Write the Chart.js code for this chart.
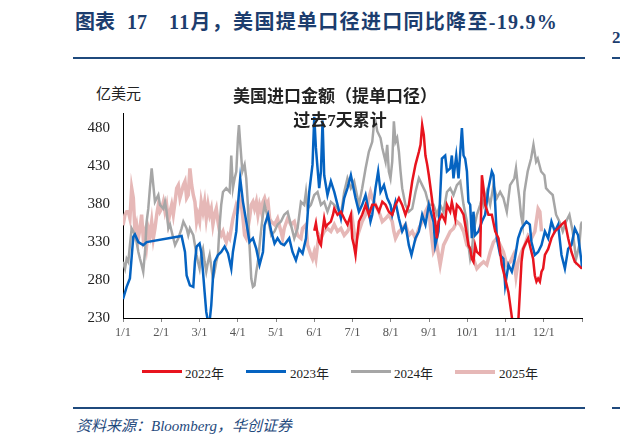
<!DOCTYPE html>
<html>
<head>
<meta charset="utf-8">
<script src="https://cdn.jsdelivr.net/npm/chart.js@4.4.1/dist/chart.umd.min.js"></script>
<style>
  body { margin: 0; background: #fff; }
  #page { position: relative; width: 620px; height: 445px; overflow: hidden; font-family: "Liberation Serif", "Noto Sans CJK SC", serif; }
  .abs { position: absolute; white-space: nowrap; }
  .hd { color: #1c3d6e; font-weight: bold; font-size: 20px; top: 10px; line-height: 24px; }
  .rule { position: absolute; background: #1f4a7d; height: 2px; }
  .leg-line { position: absolute; height: 3px; width: 40px; top: 370px; }
  .leg-txt { position: absolute; top: 363px; font-size: 13px; color: #222; }
</style>
</head>
<body>
<div id="page">
  <div class="abs hd" style="left:75px">图表</div>
  <div class="abs hd" style="left:127px">17</div>
  <div class="abs hd" style="left:169px;letter-spacing:1.3px">11月，美国提单口径进口同比降至-19.9%</div>
  <div class="rule" style="left:73px;top:57px;width:512px"></div>
  <div class="abs" style="left:612px;top:28px;color:#1c3d6e;font-weight:bold;font-size:17px">2</div>
  <div class="rule" style="left:612px;top:57px;width:8px"></div>

  <div class="abs" style="left:96px;top:82px;font-size:15px;color:#222;font-family:'Noto Sans CJK SC'">亿美元</div>

  <div style="position:absolute;left:73px;top:62px;width:512px;height:288px">
    <canvas id="myChart" width="512" height="288"></canvas>
  </div>

  <div class="abs" style="left:230px;top:82px;width:210px;text-align:center;font-size:17px;font-weight:bold;color:#222">美国进口金额（提单口径）</div>
  <div class="abs" style="left:288px;top:106px;width:104px;text-align:center;font-size:17px;font-weight:bold;color:#222">过去7天累计</div>

  <div class="leg-line" style="left:142px;background:#e8141e"></div>
  <div class="leg-txt" style="left:185px">2022年</div>
  <div class="leg-line" style="left:246px;background:#0563c1"></div>
  <div class="leg-txt" style="left:290px">2023年</div>
  <div class="leg-line" style="left:351px;background:#a6a6a6"></div>
  <div class="leg-txt" style="left:394px">2024年</div>
  <div class="leg-line" style="left:455px;background:#e6b8b7;height:4px"></div>
  <div class="leg-txt" style="left:499px">2025年</div>

  <div class="rule" style="left:73px;top:407px;width:512px"></div>
  <div class="rule" style="left:612px;top:407px;width:8px"></div>
  <div class="abs" style="left:76px;top:414px;font-size:15px;font-style:italic;color:#1f4a7d">资料来源：Bloomberg，华创证券</div>
</div>

<script>
'use strict';

// axes
const xLabels = ["1/1", "2/1", "3/1", "4/1", "5/1", "6/1", "7/1", "8/1", "9/1", "10/1", "11/1", "12/1", ""];
const yTicks = [230, 280, 330, 380, 430, 480];

// 2022 (starts in June)
const d2022 = [152.1,153.4,154.7,156,157.4,158.7,160,161.3,162.6,165.3,167,168,170.6,173.3,175.9,178.5,181.2,182.3,183.6,184.9,186.2,187.6,190.2,192.9,195.5,198.2,200.8,203.5,206.2,208.8,211.4,214.1,216.7,219.4,222,224.6,227.3,230,232.6,235.3,236.6,237.9,239.2,240.5,241.9,243.2,245.6,246.9,248.3,249.6,250.9,253.6,256.2,257.6,260.2,261.5,264.2,265.5,268.2,270.8,273.5,274.7,276.1,277.4,278.7,280,281.4,284,285.4,286.7,288,290.6,293.3,296,298.6,301.2,303.9,306.5,309.4,311,314,316.9,318.2,319.5,322.2,324.8,326.1,327.5,328.8,330.1,331.5,332.8,334.1,335.5,338.1,340.7,343.4,346,348.7,351.4,354,356.6,359.3,361.9,365];
const v2022 = [345,355,340,330,326,345,361,350,353,357,366,374,366,370,361,353,366,335,326,313,335,357,366,379,366,379,379,370,383,379,370,366,379,388,379,366,379,410,432,449,458,484,471,444,432,418,388,370,357,335,357,366,357,379,370,383,361,379,374,366,339,326,321,308,304,326,317,313,418,401,379,366,366,344,335,300,282,264,229,215,215,304,321,326,335,317,308,286,278,282,278,291,295,313,321,335,344,348,353,357,335,317,304,300,295];

// 2023
const d2023 = [0,2.9,5.5,8.2,9.5,12.2,16.1,18.8,46.6,49.3,50.6,53.2,55.9,57.2,58.5,60.9,62.2,63.6,64.9,66.2,67.6,68.9,70.2,71.5,72.8,75.5,78.1,80.8,83.5,86.1,87.4,90.1,91.4,93.2,95.4,98,100.6,103.3,106,108.6,111.3,112.6,115.3,117.9,120.5,122.9,125.6,128.2,132.2,134.8,137.5,140.1,142.8,145.5,148.1,150.7,152.1,153.4,156,157.4,158.7,160,162.6,165.3,168,170.6,173.3,175.9,178.5,181.2,184.9,187.6,190.2,192.9,195.5,196.8,198.2,200.8,202.9,204.8,207.5,210.1,212.7,214.1,216.7,219.4,222,224.6,227.3,229.4,232.6,235.3,237.9,240.5,243.2,246.9,248.3,250.9,253.6,256.2,257.6,260.2,261.5,262.8,265,266.8,269.5,270.8,272.1,273.5,274.7,276.1,277.4,278.7,280,282.7,285.4,288,290.6,293.3,294.6,296,297.3,299.9,302.5,303.9,306.5,309.2,311.6,314.2,316.9,320.8,323.5,324.8,327.5,330.1,332.8,335.5,338.1,340.7,343.4,346,348.7,351.4,354,356.6,359.3,361.9,364.6,365];
const v2023 = [255,271,282,337,340,330,326,330,338,317,286,273,271,304,324,328,317,291,264,238,225,226,247,282,304,313,317,324,315,295,317,344,379,414,383,357,330,335,321,300,317,352,366,344,328,335,328,326,335,317,306,321,315,335,396,432,495,454,401,423,490,418,392,410,396,379,361,388,401,418,388,370,379,392,370,357,366,401,423,396,405,388,379,366,383,361,344,353,326,313,335,344,366,353,379,357,326,344,440,444,423,427,444,414,444,414,480,444,440,423,383,379,335,370,339,344,357,366,401,423,418,379,335,313,308,273,300,291,308,335,348,357,353,330,313,317,326,344,335,357,344,353,313,295,321,326,348,339,304,295];

// 2024
const d2024 = [0,1.6,2.9,4.2,5.5,6.9,8.2,9.5,10.8,12.2,13.5,14.8,16.1,17.5,18.8,20.1,21.4,22.8,24.1,25.4,28.1,29.4,32.1,33.4,34.7,36.1,37.4,38.7,40,41.4,44,46.6,48,50.6,51.9,53.2,55.9,58.5,59.6,60.9,62.2,63.6,64.9,66.2,67.6,68.9,71.5,72.8,74.2,75.5,76.8,78.1,79.5,82.1,84.8,86.1,87.4,88.8,90.1,91.4,92.2,93.5,94.9,96.7,98,99.3,100.6,102,103.3,104.6,106,107.3,108.6,110,111.3,112.6,115.3,117.9,120.5,122.9,125.6,128.2,130.9,133.5,136.2,138.8,141.5,144.1,145.5,146.8,149.4,152.1,154.7,157.4,160,162.6,165.3,168,170.6,173.3,175.9,178.5,181.2,183.8,187.6,190.2,192.9,195.5,198.2,199.5,200.8,202.2,204.8,206.2,208.8,210.1,211.4,212.7,214.1,215.4,216.7,218,219.4,220.7,222,224.6,227.3,230,232.6,235.3,237.9,240.5,243.2,246.9,249.6,252.2,254.9,257.6,260.2,262.8,265.5,268.2,270.8,273.5,274.7,276.1,277.4,278.7,281.4,284,285.4,286.7,289.3,292,294.6,297.3,299.9,302.5,305.2,307.8,311.2,312.5,313.9,315.2,316.5,317.9,319.2,321.8,324.5,326.4,328.5,329.8,332.5,335.1,336.4,339.1,341.7,344.4,347,349.7,352.3,355,357.6,360.3,362.9,364.2,365];
const v2024 = [304,295,308,304,326,348,344,339,330,317,308,300,291,317,357,374,401,427,405,383,392,379,374,383,370,348,353,344,335,326,335,348,357,348,339,348,339,313,304,295,313,321,304,291,304,313,282,291,304,313,352,379,396,401,396,444,401,414,423,467,484,454,423,432,414,379,326,282,271,273,291,304,326,348,366,379,361,339,344,353,357,366,370,353,335,348,383,379,396,374,379,392,396,379,383,370,383,379,374,366,396,414,401,410,379,401,427,449,462,484,489,476,467,454,436,458,423,414,436,489,462,467,449,423,401,379,370,374,396,414,405,396,379,379,366,379,370,396,401,392,405,410,379,357,326,308,317,344,366,379,388,379,396,379,405,388,396,388,370,405,414,427,405,388,366,353,396,423,440,458,436,440,423,418,401,396,392,366,357,344,357,366,344,308,326,353,357];

// 2025 (to end of November)
const d2025 = [0,1.6,2.9,4.2,5.5,6.9,8.2,9.5,10.8,12.2,13.5,14.8,16.1,17.5,18.8,20.1,21.4,22.8,24.1,25.4,26.8,28.1,29.4,30.7,32.1,33.4,34.7,36.1,37.4,38.7,40,41.4,42.7,44,45.3,46.6,48,49.3,50.6,51.9,53.2,54.6,55.9,57.2,58.5,59.6,60.9,62.2,63.6,64.9,66.2,67.6,68.9,70.2,71.5,72.8,74.2,75.5,76.8,78.1,79.5,80.8,82.1,83.5,84.8,86.1,87.4,88.8,90.1,91.4,92.8,94.1,95.4,96.7,98,99.3,100.6,102,103.3,104.6,106,107.3,108.6,110,111.3,112.6,114,115.3,116.6,117.9,120.5,122.9,125.6,126.9,128.2,130.9,133.5,136.2,138.8,141.5,142.8,145.5,146.8,149.4,150.7,152.1,153.4,154.7,156,157.4,160,162.6,165.3,168,170.6,173.3,175.9,178.5,181.2,182.3,184.9,187.6,190.2,192.9,195.5,196.8,198.2,200.8,203.5,206.2,208.8,211.4,214.1,215.4,216.7,219.4,222,224.6,227.3,230,232.6,235.3,237.9,240.5,243.2,244.3,246.9,249.6,252.2,254.9,257.6,260.2,262.8,265.5,268.2,270.8,273.5,276.1,278.7,281.4,284,286.7,289.3,292,294.6,297.3,299.9,302.5,305.2,308,310.5,312.5,314.2,316.9,319.5,322.2,324.8,327.5,330.1,331.5,332.8];
const v2025 = [352,366,370,370,361,401,388,344,353,335,348,366,335,344,326,348,339,357,335,348,366,379,370,374,383,370,379,357,370,379,366,383,401,405,388,396,405,410,388,392,427,405,392,383,357,366,357,383,370,383,361,379,366,374,353,366,374,357,344,339,344,335,330,339,335,348,361,370,379,374,388,379,361,339,335,348,361,379,383,374,383,366,379,370,383,388,379,383,361,357,353,361,344,335,348,361,353,357,339,335,348,353,326,313,308,317,308,326,339,335,344,348,344,353,344,348,339,344,353,361,330,344,357,366,388,396,388,379,370,357,361,366,357,344,335,344,348,353,339,344,335,348,357,370,379,353,317,326,300,326,335,344,348,357,353,344,326,321,308,295,300,304,300,317,330,335,326,317,300,304,313,285,304,317,326,339,335,344,374,370,344,357];

function pts(days, vals) {
  return days.map((d, i) => ({ x: d, y: vals[i] }));
}

function series(label, days, vals, color, width) {
  return {
    label: label,
    data: pts(days, vals),
    borderColor: color,
    backgroundColor: color,
    borderWidth: width,
    pointRadius: 0,
    tension: 0,
    fill: false
  };
}

const serif = "'Liberation Serif', 'Noto Sans CJK SC', serif";

new Chart("myChart", {
  type: "line",
  data: {
    datasets: [
      series("2022年", d2022, v2022, "#e8141e", 2.5),
      series("2023年", d2023, v2023, "#0563c1", 2.5),
      series("2024年", d2024, v2024, "#a6a6a6", 2.5),
      series("2025年", d2025, v2025, "#e6b8b7", 3.5)
    ]
  },
  options: {
    responsive: false,
    animation: false,
    layout: { padding: { top: 51, right: 3, left: 0, bottom: 0 } },
    plugins: {
      legend: { display: false },
      tooltip: { enabled: false }
    },
    scales: {
      x: {
        type: "linear",
        min: 0,
        max: 365,
        afterBuildTicks: (s) => { s.ticks = xLabels.map((l, i) => ({ value: i * 365 / 12 })); },
        afterFit: (s) => { s.height = 32; },
        border: { color: "#000", width: 1 },
        grid: { drawOnChartArea: false, tickLength: 4, color: "#888" },
        ticks: {
          autoSkip: false,
          maxRotation: 0,
          padding: 3,
          color: "#555",
          font: { family: serif, size: 12.5 },
          callback: (v, i) => xLabels[i]
        }
      },
      y: {
        min: 230,
        max: 500,
        afterBuildTicks: (s) => { s.ticks = yTicks.map(v => ({ value: v })); },
        afterFit: (s) => { s.width = 50; },
        border: { color: "#000", width: 1 },
        grid: { drawOnChartArea: false, drawTicks: false },
        ticks: {
          padding: 13,
          color: "#222",
          font: { family: serif, size: 15 }
        }
      }
    }
  }
});
</script>
</body>
</html>
